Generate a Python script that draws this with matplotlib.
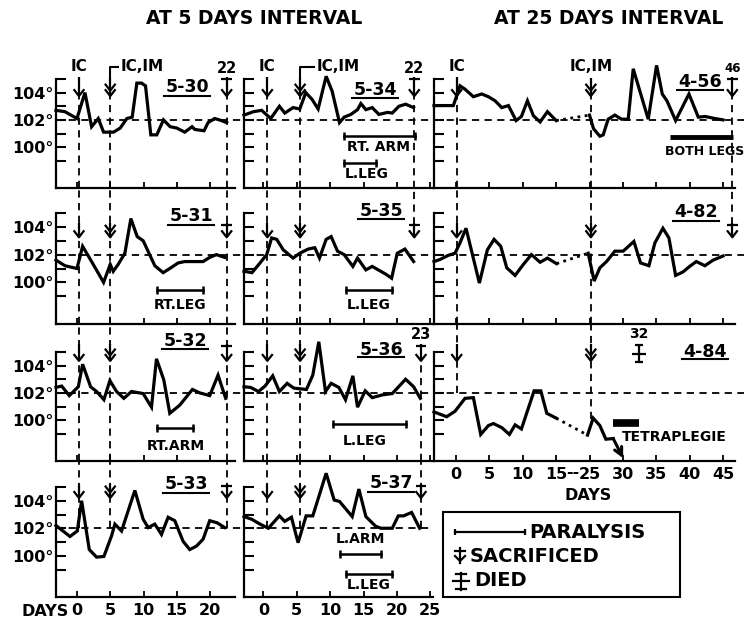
import matplotlib
matplotlib.use("Agg")
import matplotlib.pyplot as plt
from matplotlib.patches import Rectangle

plt.rcParams["font.family"] = ["DejaVu Sans"]
plt.rcParams["font.weight"] = "bold"

# ---------------- data (days after first injection, temperature in °F) ----------------
d530 = [-3.15, -1.8, 0.0, 1.2, 2.2, 3.2, 4.0, 5.5, 6.5, 7.5, 8.3, 9.0, 9.7, 10.3, 11.1, 12.0,
        13.0, 14.0, 15.0, 16.2, 17.3, 17.7, 19.1, 19.7, 20.7, 21.7, 22.5]
t530 = [102.7, 102.6, 102.1, 104.0, 101.5, 102.1, 101.1, 101.1, 101.4, 102.1, 102.2, 104.7, 104.7,
        104.5, 100.9, 100.9, 102.0, 101.5, 101.4, 101.1, 101.5, 101.3, 101.2, 101.8, 102.1, 101.95, 101.8]

d531 = [-3.15, -1.8, 0.0, 0.85, 2.2, 4.0, 5.0, 5.45, 6.2, 7.2, 8.1, 9.05, 9.95, 11.7, 12.95,
        13.95, 15.2, 16.2, 18.0, 18.95, 19.95, 20.95, 22.2]
t531 = [101.6, 101.2, 101.0, 102.6, 101.5, 100.0, 101.3, 100.8, 101.3, 102.1, 104.6, 103.3, 103.0,
        101.2, 100.7, 101.0, 101.4, 101.5, 101.5, 101.5, 101.8, 102.0, 101.8]

d532 = [-3.15, -2.3, -1.15, 0.2, 0.85, 2.05, 2.95, 4.05, 4.95, 5.95, 7.05, 8.2, 9.95, 11.2,
        11.95, 13.05, 13.95, 15.45, 17.35, 18.45, 19.95, 21.2, 22.35]
t532 = [102.4, 102.5, 101.8, 102.45, 104.1, 102.45, 102.1, 101.5, 102.9, 102.1, 101.6, 102.1,
        101.95, 100.95, 104.5, 102.95, 100.5, 101.1, 102.25, 102.0, 101.8, 103.3, 101.6]

d533 = [-3.15, -1.05, 0.05, 0.7, 1.85, 2.95, 4.05, 5.2, 5.7, 6.7, 8.7, 9.95, 10.7, 11.7, 12.7,
        13.7, 14.7, 15.95, 16.95, 17.95, 18.95, 19.95, 21.05, 22.2]
t533 = [102.2, 101.4, 101.8, 104.0, 100.45, 99.9, 99.95, 101.45, 102.3, 101.8, 104.75, 102.65,
        102.05, 102.3, 101.55, 102.8, 102.55, 101.05, 100.45, 100.7, 101.2, 102.55, 102.4, 102.05]

d534 = [-2.9, -1.5, -0.25, 1.1, 2.4, 3.2, 4.45, 5.45, 6.35, 7.3, 8.2, 9.4, 10.3, 11.4, 12.1, 13.1,
        14.1, 14.6, 15.35, 16.3, 17.3, 18.6, 19.3, 20.3, 21.3, 22.5]
t534 = [102.35, 102.6, 102.7, 102.1, 103.0, 102.5, 102.9, 102.8, 104.0, 103.5, 102.8, 105.2, 104.1,
        101.8, 102.2, 102.4, 102.75, 103.2, 102.75, 102.9, 102.4, 102.55, 102.5, 103.0, 103.15, 102.9]

d535 = [-2.9, -1.7, -0.5, 0.5, 1.24, 2.0, 2.97, 4.45, 5.45, 6.7, 7.7, 8.4, 9.4, 10.15, 11.1, 12.1,
        13.4, 14.1, 15.35, 16.3, 18.3, 19.2, 20.05, 21.2, 22.5]
t535 = [100.8, 100.7, 101.4, 102.0, 103.2, 103.1, 102.35, 101.75, 102.1, 102.4, 102.5, 101.75,
        103.1, 103.3, 102.25, 102.0, 101.15, 101.75, 100.9, 101.15, 100.6, 100.3, 102.1, 102.4, 101.5]

d536 = [-2.9, -1.9, -0.74, 0.25, 1.4, 2.4, 3.56, 4.55, 6.45, 7.4, 8.3, 9.3, 10.15, 11.3, 12.3,
        13.4, 14.1, 15.25, 16.3, 17.8, 19.3, 21.3, 22.5, 23.5]
t536 = [102.45, 102.4, 102.1, 102.5, 103.25, 102.1, 102.7, 102.35, 102.25, 103.3, 105.75, 102.1,
        102.7, 102.4, 101.5, 103.25, 100.95, 102.15, 101.65, 101.85, 101.95, 103.0, 102.45, 101.6]

d537 = [-2.9, -1.73, -0.5, 0.74, 2.4, 3.2, 4.2, 5.2, 6.4, 7.4, 9.4, 10.6, 11.4, 13.3, 14.3, 15.35,
        16.8, 17.6, 19.3, 20.2, 21.0, 22.2, 23.4]
t537 = [102.85, 102.65, 102.3, 102.0, 102.9, 102.5, 102.8, 100.95, 102.9, 102.9, 106.0, 104.05,
        103.95, 102.85, 104.85, 102.85, 102.15, 102.0, 102.0, 102.9, 102.9, 103.15, 102.0]

d456 = [-3.3, -0.4, 0.6, 1.35, 2.6, 3.85, 4.85, 5.85, 6.85, 7.85, 9.0, 9.8, 10.7, 11.6, 12.6, 13.7,
        15.0, 25.0, 25.6, 26.55, 27.05, 27.8, 28.8, 29.8, 30.8, 31.55, 33.8, 35.05, 35.9, 36.6,
        37.9, 39.9, 41.3, 42.3, 43.8, 45.0]
t456 = [103.05, 103.05, 104.5, 104.25, 103.7, 103.9, 103.7, 103.4, 102.9, 103.05, 101.95, 102.25,
        103.4, 102.3, 101.85, 102.6, 101.95, 102.35, 101.35, 100.8, 100.9, 102.05, 102.35, 102.05,
        102.05, 105.75, 102.05, 106.0, 103.9, 103.4, 101.95, 103.9, 102.2, 102.25, 102.1, 102.0]

d482 = [-3.3, -2.4, -1.15, -0.15, 0.6, 1.5, 3.5, 4.7, 5.7, 6.7, 7.6, 8.85, 10.1, 11.3, 12.6, 13.7,
        15.05, 24.8, 25.7, 26.55, 27.55, 28.8, 30.05, 31.65, 32.65, 33.9, 34.8, 36.0, 36.9, 37.9,
        39.0, 40.0, 41.0, 42.3, 43.5, 45.0]
t482 = [101.5, 101.65, 101.95, 102.1, 102.85, 103.9, 99.95, 102.35, 103.1, 102.6, 101.05, 100.5,
        101.3, 102.0, 101.45, 101.75, 101.35, 102.1, 100.1, 101.05, 101.5, 102.25, 102.25, 102.95,
        101.4, 101.2, 102.85, 103.9, 103.2, 100.5, 100.75, 101.15, 101.5, 101.2, 101.6, 101.9]

d484 = [-3.3, -1.4, -0.15, 1.35, 2.6, 3.7, 4.85, 5.6, 6.85, 8.0, 8.85, 9.8, 11.7, 12.7, 13.6, 15.0,
        24.7, 25.55, 26.55, 27.45, 28.55, 30.05]
t484 = [100.6, 100.25, 100.65, 101.6, 101.65, 98.95, 99.6, 99.75, 99.45, 98.95, 99.65, 99.35,
        102.15, 102.15, 100.5, 100.15, 98.9, 100.15, 99.6, 98.6, 98.65, 97.2]

panel_names = ["5-30", "5-31", "5-32", "5-33", "5-34", "5-35", "5-36", "5-37", "4-56", "4-82", "4-84"]
panel_days = [d530, d531, d532, d533, d534, d535, d536, d537, d456, d482, d484]
panel_temps = [t530, t531, t532, t533, t534, t535, t536, t537, t456, t482, t484]
panel_col = [0, 0, 0, 0, 1, 1, 1, 1, 2, 2, 2]
panel_row = [0, 1, 2, 3, 0, 1, 2, 3, 0, 1, 2]

ic_day = [0.3, 0.6, 0.1]          # per column
icim_day = [5.0, 5.5, 25.2]
inj_end_temp = [(102.0, 102.0), (102.0, 102.0), (102.0, 100.1)]
# sacrifice events: column, first row, last row, day, label, end temp (None = ends at arrow)
sac_col = [0, 1, 1, 2]
sac_r0 = [0, 0, 2, 0]
sac_r1 = [3, 1, 3, 1]
sac_day = [22.5, 22.6, 23.6, 46.4]
sac_label = ["22", "22", "23", "46"]
sac_end = [102.05, None, 102.0, None]
died_day, died_label = 32.4, "32"

# paralysis: column, row, start day, end day, temp level, label, label day, label temp, thick
par_col = [1, 1, 2, 0, 1, 0, 1, 1, 1, 2]
par_row = [0, 0, 0, 1, 1, 2, 2, 3, 3, 2]
par_start = [12.1, 12.1, 37.0, 12.0, 12.3, 12.0, 10.4, 11.4, 12.4, 28.45]
par_end = [22.7, 16.8, 46.5, 19.0, 19.3, 17.5, 21.3, 17.6, 19.2, 32.4]
par_level = [100.83, 98.85, 100.75, 99.48, 99.48, 99.4, 99.7, 100.1, 98.65, 99.8]
par_text = ["RT. ARM", "L.LEG", "BOTH LEGS", "RT.LEG", "L.LEG", "RT.ARM", "L.LEG", "L.ARM", "L.LEG",
            "TETRAPLEGIE"]
par_text_x = [12.5, 12.2, 43.2, 15.5, 15.8, 14.8, 15.1, 14.6, 15.8, 24.8]
par_text_y = [100.0, 98.05, 99.7, 98.4, 98.4, 98.1, 98.5, 101.2, 97.9, 98.75]
par_text_ha = ["left", "left", "right", "center", "center", "center", "center", "center", "center", "left"]
par_thick = [False, False, True, False, False, False, False, False, False, True]

x_ticks = [[0, 5, 10, 15, 20], [0, 5, 10, 15, 20, 25], [0, 5, 10, 15, 25, 30, 35, 40, 45]]

# ---------------- layout ----------------
W, H = 746, 620
fig = plt.figure(figsize=(W / 100, H / 100), dpi=100)

COL_PX = [(56, 235), (244, 433), (434, 735)]
ROW_PX = [(79, 188), (213, 324), (352, 461), (487, 597)]
XLIM = [(-3.15, 23.75), (-2.9, 25.4), (-3.3, 41.8)]
NROWS = [4, 4, 3]
ARROW_Y = [(105.15, 103.75), (104.3, 103.25), (105.6, 104.35), (105.2, 104.2)]
DASH = (0, (4, 3))
K = "black"


def comp(c, d):
    """column 3 has a broken axis: days 15-25 are squeezed together"""
    if c == 2 and d >= 20:
        return d - 5
    return d


def gap_above(r):
    if r == 0:
        return 0
    ppd = (ROW_PX[r][1] - ROW_PX[r][0]) / 8.0
    return (ROW_PX[r][0] - ROW_PX[r - 1][1]) / ppd


axes = {}
for c in range(3):
    for r in range(NROWS[c]):
        x0, x1 = COL_PX[c]
        y0, y1 = ROW_PX[r]
        ax = fig.add_axes([x0 / W, 1 - y1 / H, (x1 - x0) / W, (y1 - y0) / H])
        ax.set_xlim(*XLIM[c])
        ax.set_ylim(97, 105)
        ax.patch.set_alpha(0)
        for s in ("top", "right"):
            ax.spines[s].set_visible(False)
        for s in ("left", "bottom"):
            ax.spines[s].set_linewidth(1.6)
        ax.set_yticks(range(99, 106))
        if c == 0:
            ax.set_yticklabels(["", "100°", "", "102°", "", "104°", ""], fontsize=11.5, fontweight="bold")
        else:
            ax.set_yticklabels([])
        ax.tick_params(axis="y", direction="in", length=7, width=1.5, pad=2)
        ticks = [comp(c, t) for t in x_ticks[c]]
        ax.set_xticks(ticks)
        if r == NROWS[c] - 1:
            ax.set_xticklabels([str(t) for t in x_ticks[c]], fontsize=11.5, fontweight="bold")
        else:
            ax.set_xticklabels([])
        ax.tick_params(axis="x", direction="in", length=4, width=1.3, pad=4)
        ext = {0: 1.05, 1: 1.0, 2: 1.03}[c]
        ax.axhline(102, xmin=0, xmax=ext, ls=DASH, lw=1.3, color=K, clip_on=False)
        axes[(c, r)] = ax


def line_kw(lw=1.6):
    return dict(color=K, lw=lw, clip_on=False, solid_capstyle="butt", zorder=6)


def draw_arrow(ax, x, ytop, ytip, kind):
    w, h = 0.8, 0.5
    ax.plot([x, x], [ytop, ytip], **line_kw())
    ax.plot([x - w, x, x + w], [ytip + h, ytip, ytip + h], **line_kw())
    if kind == "double":
        ax.plot([x - w, x, x + w], [ytip + h + 0.4, ytip + 0.4, ytip + h + 0.4], **line_kw())
    if kind == "sac":
        yb = ytop - 0.15
        ax.plot([x - w, x + w], [yb, yb], **line_kw())


def vline(c, r0, r1, x, yend):
    for r in range(r0, r1 + 1):
        ax = axes[(c, r)]
        top = ARROW_Y[r][1] if r == r0 else 105 + gap_above(r)
        bot = yend if r == r1 else 97
        ax.plot([x, x], [bot, top], ls=DASH, lw=1.3, color=K, clip_on=False, zorder=3)


# temperature curves
for name, dd, tt, c, r in zip(panel_names, panel_days, panel_temps, panel_col, panel_row):
    ax = axes[(c, r)]
    xs = [comp(c, d) for d in dd]
    segs, cur = [], [0]
    for i in range(1, len(dd)):
        if dd[i] - dd[i - 1] > 5:
            segs.append(cur)
            cur = [i]
        else:
            cur.append(i)
    segs.append(cur)
    for si, seg in enumerate(segs):
        sx = [xs[i] for i in seg]
        sy = [tt[i] for i in seg]
        if name == "4-84" and si == len(segs) - 1:
            ax.plot(sx[:-1], sy[:-1], color=K, lw=2.3, clip_on=False, solid_joinstyle="miter", zorder=4)
            ax.annotate("", xy=(sx[-1], sy[-1]), xytext=(sx[-2], sy[-2]),
                        arrowprops=dict(arrowstyle="->", lw=2.2, color=K, mutation_scale=14,
                                        shrinkA=0, shrinkB=0), annotation_clip=False)
        else:
            ax.plot(sx, sy, color=K, lw=2.3, clip_on=False, solid_joinstyle="miter", zorder=4)
        if si > 0:
            prev = segs[si - 1][-1]
            ax.plot([xs[prev], xs[seg[0]]], [tt[prev], tt[seg[0]]], color=K, lw=2.0, ls=(0, (1, 1.6)),
                    clip_on=False, zorder=4)

# injection lines & arrows
for c in range(3):
    last = NROWS[c] - 1
    xi = comp(c, ic_day[c])
    xm = comp(c, icim_day[c])
    vline(c, 0, last, xi, inj_end_temp[c][0])
    vline(c, 0, last, xm, inj_end_temp[c][1])
    for r in range(NROWS[c]):
        ax = axes[(c, r)]
        draw_arrow(ax, xi, ARROW_Y[r][0], ARROW_Y[r][1], "single")
        draw_arrow(ax, xm, ARROW_Y[r][0] - (0.1 if r == 0 else 0), ARROW_Y[r][1], "double")
    ax0 = axes[(c, 0)]
    ax0.text(xi, 105.9, "IC", ha="center", va="center", fontsize=11, fontweight="bold", clip_on=False)
    if c < 2:
        bx = [xm, xm, xm + (1.3 if c == 0 else 2.3)]
        ax0.plot(bx, [105.05, 105.9, 105.9], **line_kw(1.5))
        ax0.text(bx[-1] + 0.2, 105.9, "IC,IM", ha="left", va="center", fontsize=11, fontweight="bold")
    else:
        ax0.text(xm, 105.9, "IC,IM", ha="center", va="center", fontsize=11, fontweight="bold")

# sacrifice lines & arrows
for c, r0, r1, d, lab, ye in zip(sac_col, sac_r0, sac_r1, sac_day, sac_label, sac_end):
    x = comp(c, d)
    vline(c, r0, r1, x, ye if ye is not None else ARROW_Y[r1][1])
    for r in range(r0, r1 + 1):
        draw_arrow(axes[(c, r)], x, ARROW_Y[r][0], ARROW_Y[r][1], "sac")
    ly = ARROW_Y[r0][0] + 0.65
    axes[(c, r0)].text(x, ly, lab, ha="center", va="center", fontsize=10.5 if c < 2 else 8.5,
                       fontweight="bold", clip_on=False)

# died symbol (4-84)
axd = axes[(2, 2)]
xd = comp(2, died_day)
yt, yb = 105.5, 104.25
axd.plot([xd, xd], [yb, yt], **line_kw(1.6))
axd.plot([xd - 0.55, xd + 0.55], [yt, yt], **line_kw(1.6))
axd.plot([xd - 0.55, xd + 0.55], [yb, yb], **line_kw(1.6))
axd.plot([xd - 1.1, xd + 1.1], [(yt + yb) / 2, (yt + yb) / 2], **line_kw(1.6))
axd.text(xd, 106.3, died_label, ha="center", va="center", fontsize=10, fontweight="bold", clip_on=False)

# paralysis bars
for c, r, a, b, lv, txt, tx, ty, ha, thick in zip(par_col, par_row, par_start, par_end, par_level,
                                                   par_text, par_text_x, par_text_y, par_text_ha,
                                                   par_thick):
    ax = axes[(c, r)]
    a, b = comp(c, a), comp(c, b)
    if thick:
        ax.plot([a, b], [lv, lv], color=K, lw=3.5 if txt == "BOTH LEGS" else 5.5, clip_on=False,
                solid_capstyle="butt")
    else:
        ax.plot([a, b], [lv, lv], color=K, lw=1.8, marker="|", markersize=6, markeredgewidth=1.8,
                clip_on=False)
    ax.text(tx, ty, txt, ha=ha, va="center", fontsize=10 if txt != "BOTH LEGS" else 9,
            fontweight="bold", clip_on=False)

# ---------------- overlay in pixel coordinates ----------------
ov = fig.add_axes([0, 0, 1, 1])
ov.set_xlim(0, W)
ov.set_ylim(H, 0)
ov.axis("off")
ov.patch.set_alpha(0)

ov.text(254, 18, "AT 5 DAYS INTERVAL", ha="center", va="center", fontsize=13.5, fontweight="bold")
ov.text(609, 18, "AT 25 DAYS INTERVAL", ha="center", va="center", fontsize=13.5, fontweight="bold")

label_pos = {"5-30": (187, 87, 96), "5-34": (375, 90, 98), "4-56": (700, 82, 90),
             "5-31": (191, 216, 225), "5-35": (381, 211, 219), "4-82": (696, 212, 221),
             "5-32": (185, 341, 349), "5-36": (381, 350, 357), "4-84": (705, 352, 359),
             "5-33": (186, 484, 493), "5-37": (391, 483, 492)}
for name in panel_names:
    cx, cy, uy = label_pos[name]
    ov.text(cx, cy, name, ha="center", va="center", fontsize=12.5, fontweight="bold")
    ov.plot([cx - 23, cx + 23], [uy, uy], color=K, lw=1.5)

ov.text(69, 611, "DAYS", ha="right", va="center", fontsize=11.5, fontweight="bold")
ov.text(573, 473, "--", ha="center", va="center", fontsize=11.5, fontweight="bold")
ov.text(588, 495, "DAYS", ha="center", va="center", fontsize=11.5, fontweight="bold")

# legend box
ov.add_patch(Rectangle((443, 512), 237, 85, fill=False, lw=1.5, ec=K))
ov.plot([455, 525], [532, 532], color=K, lw=1.6, marker="|", markersize=5, markeredgewidth=1.6)
ov.text(529, 532, "PARALYSIS", ha="left", va="center", fontsize=14, fontweight="bold")
# sacrificed symbol
ov.plot([460, 460], [548, 563], color=K, lw=1.6)
ov.plot([455, 465], [551, 551], color=K, lw=1.6)
ov.plot([455, 460, 465], [556, 561, 556], color=K, lw=1.6)
ov.text(470, 556, "SACRIFICED", ha="left", va="center", fontsize=14, fontweight="bold")
# died symbol
ov.plot([461, 461], [573, 590], color=K, lw=1.6)
ov.plot([456, 466], [574, 574], color=K, lw=1.6)
ov.plot([456, 466], [589, 589], color=K, lw=1.6)
ov.plot([453, 469], [581, 581], color=K, lw=1.6)
ov.text(474, 581, "DIED", ha="left", va="center", fontsize=14, fontweight="bold")

fig.savefig("out.png", dpi=100)
